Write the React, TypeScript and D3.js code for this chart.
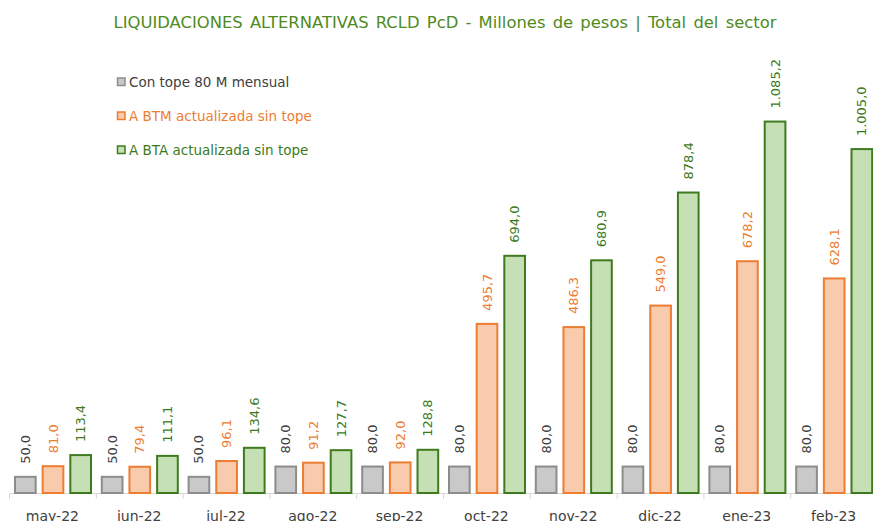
import React from 'react';
import * as d3 from 'd3';

const svgWidth = 873;
const svgHeight = 521;

const MONTHS = ['may-22', 'jun-22', 'jul-22', 'ago-22', 'sep-22', 'oct-22', 'nov-22', 'dic-22', 'ene-23', 'feb-23'];
const SERIES = ['Con tope 80 M mensual', 'A BTM actualizada sin tope', 'A BTA actualizada sin tope'];
const TOPE = [50, 50, 50, 80, 80, 80, 80, 80, 80, 80];
const BTM = [81.0, 79.4, 96.1, 91.2, 92.0, 495.7, 486.3, 549.0, 678.2, 628.1];
const BTA = [113.4, 111.1, 134.6, 127.7, 128.8, 694.0, 680.9, 878.4, 1085.2, 1005.0];
const TITLE = 'LIQUIDACIONES ALTERNATIVAS RCLD PcD - Millones de pesos | Total del sector';

const fills = ['#c9c9c9', '#f8cbad', '#c5e0b4'];
const strokes = ['#8c8c8c', '#ed7d31', '#3f7a1e'];
const labelColors = ['#404040', '#ed7d31', '#3b7a1b'];

const FONT = 'DejaVu Sans, Verdana, sans-serif';

const esLocale = d3.formatLocale({ decimal: ',', thousands: '.', grouping: [3], currency: ['', ''] });
const fmt = esLocale.format(',.1f');

const baseY = 494;

export default function App() {
  const data = [TOPE, BTM, BTA];

  const x0 = d3.scaleBand<string>().domain(MONTHS).range([9, 9 + 86.8 * MONTHS.length]).paddingInner(0).paddingOuter(0);
  const x1 = d3.scaleBand<number>().domain([0, 1, 2]).range([5, 83]).paddingInner(0.18).paddingOuter(0);
  const y = d3.scaleLinear().domain([0, 1100]).range([baseY, baseY - 0.3432 * 1100]);

  return (
    <svg width={svgWidth} height={svgHeight} style={{ position: 'absolute', left: 0, top: 0, background: '#fff' }}>
      <text x={445} y={28} textAnchor="middle" fontFamily={FONT} fontSize={16.4} fill="#4f8a23" wordSpacing={2}>
        {TITLE}
      </text>

      {/* legend */}
      {SERIES.map((s, i) => (
        <g key={s} transform={`translate(117,${82 + i * 34})`}>
          <rect x={0.5} y={-4} width={7.5} height={7.5} fill={fills[i]} stroke={strokes[i]} strokeWidth={1.5} />
          <text x={12} y={0} dominantBaseline="central" fontFamily={FONT} fontSize={13.5} fill={labelColors[i]}>{s}</text>
        </g>
      ))}

      {/* axis */}
      <line x1={9} x2={svgWidth} y1={493.5} y2={493.5} stroke="#d9d9d9" strokeWidth={1} />
      {MONTHS.map(m => (
        <line key={'t' + m} x1={x0(m)! + 0.5} x2={x0(m)! + 0.5} y1={493} y2={499} stroke="#d9d9d9" />
      ))}

      {MONTHS.map((m, mi) => (
        <g key={m} transform={`translate(${x0(m)},0)`}>
          {data.map((series, si) => {
            const v = series[mi];
            const bx = x1(si)!;
            const bw = x1.bandwidth();
            const top = y(v);
            const cx = bx + bw / 2;
            return (
              <g key={si}>
                <rect x={bx + 1} y={top} width={bw - 2} height={baseY - top - 1} fill={fills[si]} stroke={strokes[si]} strokeWidth={2} />
                <text transform={`translate(${cx},${top - 13}) rotate(-90)`} dominantBaseline="central" fontFamily={FONT} fontSize={13} fill={labelColors[si]}>
                  {fmt(v)}
                </text>
              </g>
            );
          })}
          <text x={x0.bandwidth() / 2} y={521} textAnchor="middle" fontFamily={FONT} fontSize={14} fill="#404040">{m}</text>
        </g>
      ))}
    </svg>
  );
}
